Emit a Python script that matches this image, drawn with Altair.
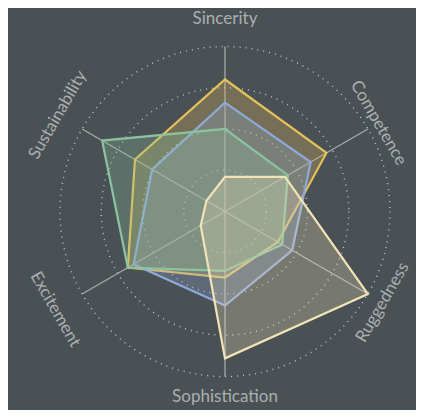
import math
import altair as alt
import pandas as pd

# ---- data ----
axes = ["Sincerity", "Competence", "Ruggedness", "Sophistication", "Excitement", "Sustainability"]
series = ["Brand A", "Brand B", "Brand C", "Brand D"]
brand_a = [80, 71, 37, 40, 68, 63]
brand_b = [66, 60, 47, 57, 64, 51]
brand_c = [50, 44, 40, 36, 68, 86]
brand_d = [21, 42, 100, 89, 17, 13]
rings = [25, 50, 75, 100]
colors = ["#e6c15a", "#8fa9d9", "#8cc3a0", "#f1e3b6"]

MAXV = 100
PX = 1.65          # pixels per unit
W, H = 408, 402
CX, CY = 217, 203.5
LABEL_PX = {0: 193, 60: 177, 120: 182, 180: 185, 240: 196, 300: 193}

values = [brand_a, brand_b, brand_c, brand_d]
rows = []
for s, vals in zip(series, values):
    for i, (a, v) in enumerate(zip(axes, vals)):
        t = math.radians(60 * i)
        rows.append({"series": s, "axis": a, "idx": i, "value": v,
                     "x": v * math.sin(t), "y": v * math.cos(t)})
poly = pd.DataFrame(rows)

axis_rows = []
for i, a in enumerate(axes):
    t = math.radians(60 * i)
    deg = 60 * i
    rot = deg if deg <= 90 else (deg - 180 if deg < 270 else deg - 360)
    rot = rot % 360
    lr = LABEL_PX[deg] / PX
    axis_rows.append({"axis": a, "x0": 0.0, "y0": 0.0,
                      "x1": MAXV * math.sin(t), "y1": MAXV * math.cos(t),
                      "lx": lr * math.sin(t), "ly": lr * math.cos(t),
                      "rot": rot})
axdf = pd.DataFrame(axis_rows)
ringdf = pd.DataFrame({"r": rings, "cx": [0.0] * len(rings), "cy": [0.0] * len(rings)})

xs = alt.Scale(domain=[-CX / PX, (W - CX) / PX], nice=False, zero=False)
ys = alt.Scale(domain=[-(H - CY) / PX, CY / PX], nice=False, zero=False)

ring_layer = alt.Chart(ringdf).mark_point(
    shape="circle", filled=False, stroke="#d8dcdc", strokeOpacity=0.8, strokeWidth=1.5,
    strokeDash=[1, 5], opacity=1
).encode(
    x=alt.X("cx:Q", scale=xs, axis=None),
    y=alt.Y("cy:Q", scale=ys, axis=None),
    size=alt.Size("r:Q", scale=alt.Scale(type="pow", exponent=2, domain=[0, MAXV],
                                         range=[0, (2 * MAXV * PX) ** 2]), legend=None),
)

axis_layer = alt.Chart(axdf).mark_rule(color="#b5b9b9", strokeWidth=1.3, opacity=0.85).encode(
    x=alt.X("x0:Q", scale=xs, axis=None),
    y=alt.Y("y0:Q", scale=ys, axis=None),
    x2="x1:Q",
    y2="y1:Q",
)

color_scale = alt.Scale(domain=series, range=colors)
poly_layer = alt.Chart(poly).mark_line(
    interpolate="linear-closed", strokeWidth=2.2, fillOpacity=0.27, strokeJoin="miter"
).encode(
    x=alt.X("x:Q", scale=xs, axis=None),
    y=alt.Y("y:Q", scale=ys, axis=None),
    stroke=alt.Stroke("series:N", scale=color_scale, legend=None),
    fill=alt.Fill("series:N", scale=color_scale, legend=None),
    detail="series:N",
    order=alt.Order("idx:Q"),
)

label_layer = alt.Chart(axdf).mark_text(
    font="Lato", fontSize=17, color="#a9afb0", baseline="middle", align="center"
).encode(
    x=alt.X("lx:Q", scale=xs, axis=None),
    y=alt.Y("ly:Q", scale=ys, axis=None),
    text="axis:N",
    angle=alt.Angle("rot:Q", scale=None),
)

chart = alt.layer(ring_layer, axis_layer, poly_layer, label_layer).properties(
    width=W, height=H, padding=0, autosize=alt.AutoSizeParams(type="none"),
    background="#4a5155",
).configure_view(stroke=None)

chart.save("out.html", embed_options={"renderer": "svg", "actions": False})
